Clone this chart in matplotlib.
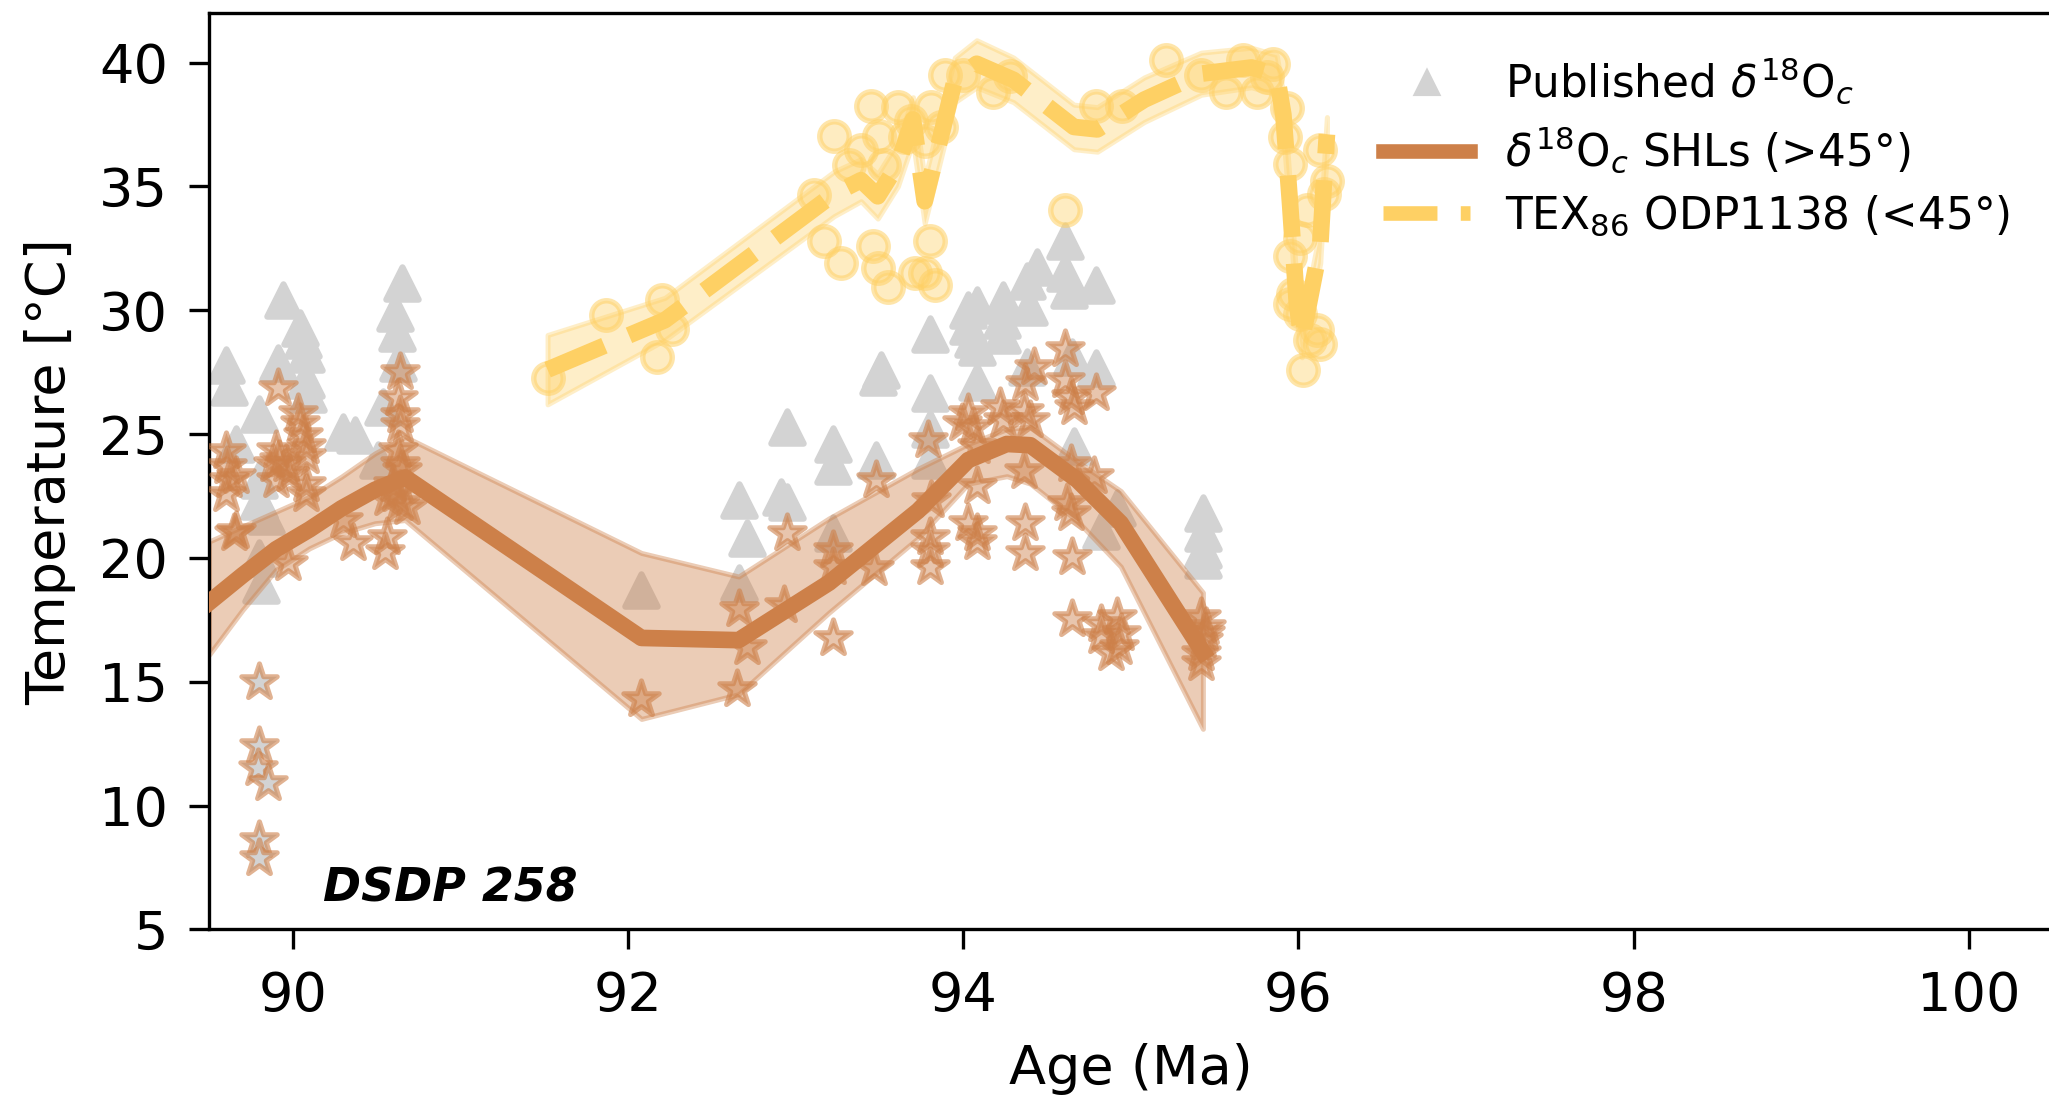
import numpy as np
import matplotlib
matplotlib.use('Agg')
import matplotlib.pyplot as plt
from matplotlib.lines import Line2D
from matplotlib.colors import to_rgba

# colours
brown = '#cd8049'
yellow = '#fed064'
grey = '#d3d3d3'

# published d18O (grey triangles): age (Ma), temperature (C)
pub_age = [89.60, 89.62, 89.66, 89.94, 90.04, 90.06, 90.08, 89.91, 90.08, 90.09,
           89.80, 89.80, 89.80, 89.84, 89.80, 89.81, 90.30, 90.37, 90.65, 90.61,
           90.62, 90.63, 90.54, 90.51, 92.08,
           93.51, 93.49, 92.95, 92.66, 92.71, 93.22, 93.22, 92.91, 92.95, 93.48,
           93.22, 92.66, 93.80, 93.80, 93.80, 93.80, 94.03, 94.08, 94.03, 94.06,
           94.08, 94.24, 94.23, 94.23, 94.39, 94.44, 94.38, 94.61, 94.61, 94.63,
           94.79, 94.08, 94.38, 94.79, 94.65, 94.66, 94.92, 94.82, 95.43, 95.43,
           95.43, 95.43]
pub_temp = [27.8, 26.9, 24.6, 30.4, 29.3, 28.8, 28.25, 27.85, 27.2, 26.6,
            25.8, 23.15, 22.3, 21.7, 20.0, 18.9, 25.1, 24.95, 31.1, 29.9,
            29.1, 27.85, 26.1, 23.95, 18.7,
            27.6, 27.3, 25.3, 22.35, 20.8, 24.6, 23.7, 22.45, 22.25, 23.95,
            21.0, 19.0, 29.05, 26.65, 25.2, 23.95, 30.0, 30.2, 29.35, 28.85,
            28.5, 30.4, 29.6, 29.0, 30.15, 31.75, 31.2, 32.8, 31.5, 30.8,
            31.0, 27.1, 27.7, 27.65, 28.1, 24.5, 22.0, 21.1, 21.8, 21.0,
            20.3, 19.9]

# d18O SHL samples (brown stars)
shl_age = [89.60, 89.61, 89.62, 89.60, 89.66, 89.65, 89.66, 89.91, 90.03, 90.04,
           90.06, 90.08, 90.08, 89.90, 89.92, 89.96, 89.88, 89.90, 89.98, 90.08,
           90.08, 89.97, 90.30, 90.36, 90.56, 90.55, 90.64, 90.63, 90.64, 90.64,
           90.63, 90.64, 90.65, 90.60, 90.56, 90.64, 90.68, 90.61,
           92.08, 92.66, 92.71, 92.65, 92.95, 92.93, 93.22, 93.22, 93.22, 93.48,
           93.47, 93.79, 93.81, 93.80, 93.80, 93.80, 94.03, 93.99, 94.06, 94.08,
           94.08, 94.03, 94.08, 94.08, 94.22, 94.24, 94.36, 94.37, 94.42, 94.40,
           94.36, 94.37, 94.37, 94.61, 94.61, 94.64, 94.66, 94.79, 94.65, 94.64,
           94.78, 94.62, 94.64, 94.65, 94.82, 94.92, 94.82, 94.93, 94.94, 94.88,
           95.42, 95.44, 95.42, 95.42, 95.43, 95.45]
shl_temp = [24.3, 23.7, 23.15, 22.6, 23.3, 21.0, 21.1, 26.85, 25.85, 25.45,
            24.95, 24.5, 24.1, 24.35, 23.95, 23.8, 23.8, 23.15, 23.4, 23.0,
            22.6, 19.8, 21.55, 20.6, 20.85, 20.25, 27.5, 26.45, 25.75, 25.35,
            24.35, 23.8, 23.55, 23.0, 22.4, 22.2, 22.05, 22.6,
            14.3, 17.95, 16.4, 14.7, 21.0, 18.1, 20.3, 19.65, 16.75, 23.15,
            19.6, 24.75, 22.35, 20.85, 20.3, 19.65, 25.85, 25.45, 25.3, 24.5,
            22.9, 21.4, 21.0, 20.65, 26.1, 25.55, 25.95, 27.05, 27.7, 25.55,
            23.5, 21.4, 20.2, 28.45, 27.2, 26.5, 26.1, 26.65, 20.05, 23.8,
            23.3, 22.2, 21.8, 17.55, 17.35, 17.6, 16.85, 16.4, 16.95, 16.15,
            17.6, 16.95, 16.15, 15.75, 16.7, 17.2]

# excluded SHL samples (grey-filled stars)
excl_age = [89.80, 89.80, 89.79, 89.85, 89.80, 89.80]
excl_temp = [15.0, 12.4, 11.5, 10.9, 8.6, 7.9]

# SHL mean curve with its envelope
shl_mean_age = [89.5, 89.7, 89.9, 90.1, 90.29, 90.49, 90.67, 92.08, 92.66, 93.2,
                93.73, 94.03, 94.26, 94.4, 94.68, 94.94, 95.43]
shl_mean = [18.2, 19.3, 20.35, 21.15, 22.0, 22.75, 23.25, 16.77, 16.68, 19.0,
            21.9, 23.95, 24.6, 24.55, 23.15, 21.4, 16.2]
shl_upper = [20.66, 21.27, 21.87, 22.47, 23.28, 24.22, 24.89, 20.2, 19.25, 21.6,
             23.6, 24.6, 25.2, 25.3, 23.9, 22.7, 18.6]
shl_lower = [16.09, 17.9, 19.52, 20.39, 21.0, 21.4, 21.53, 13.5, 14.5, 17.8,
             20.8, 23.0, 23.3, 23.0, 21.5, 19.65, 13.1]

# TEX86 ODP1138 samples (yellow circles)
tex_age = [91.52, 91.87, 92.20, 92.26, 92.17, 93.11, 93.23, 93.45, 93.39, 93.32,
           93.53, 93.50, 93.61, 93.69, 93.81, 93.87, 93.65, 93.77, 93.89, 94.00,
           94.18, 94.28, 93.17, 93.27, 93.46, 93.49, 93.55, 93.71, 93.77, 93.83,
           93.80, 94.79, 94.95, 94.61, 95.21, 95.42, 95.57, 95.67, 95.75, 95.85,
           95.81, 95.93, 95.92, 95.95, 96.13, 96.17, 96.15, 96.05, 96.01, 95.95,
           95.97, 96.01, 96.11, 96.07, 96.13, 96.03, 95.95]
tex_temp = [27.25, 29.8, 30.4, 29.25, 28.1, 34.65, 37.05, 38.25, 36.45, 35.85,
            35.85, 37.05, 38.2, 37.65, 38.2, 37.4, 37.0, 36.85, 39.5, 39.5,
            38.8, 39.45, 32.8, 31.9, 32.6, 31.7, 30.95, 31.5, 31.5, 31.0,
            32.8, 38.25, 38.25, 34.05, 40.1, 39.5, 38.8, 40.1, 38.8, 39.95,
            39.4, 38.15, 37.0, 35.9, 36.45, 35.2, 34.7, 34.05, 32.9, 32.2,
            30.65, 29.85, 29.2, 28.8, 28.65, 27.6, 30.25]

# TEX86 mean curve with its envelope
tex_mean_age = [91.52, 92.22, 93.23, 93.39, 93.49, 93.61, 93.70, 93.77, 93.95, 94.08,
                94.30, 94.66, 94.80, 95.08, 95.42, 95.72, 95.87, 95.91, 95.95, 95.99,
                96.02, 96.13, 96.16, 96.17]
tex_mean = [27.6, 29.6, 34.7, 35.25, 34.6, 35.9, 37.7, 34.4, 39.3, 39.95,
            39.3, 37.4, 37.3, 38.5, 39.55, 39.8, 39.5, 37.9, 34.3, 30.3,
            28.8, 32.6, 36.1, 37.1]
tex_upper = [29.0, 30.5, 35.6, 36.1, 35.5, 36.8, 38.6, 35.3, 40.2, 40.9,
             40.2, 38.3, 38.2, 39.4, 40.4, 40.6, 40.3, 38.7, 35.0, 31.0,
             29.5, 33.3, 36.8, 37.8]
tex_lower = [26.2, 28.8, 33.8, 34.4, 33.7, 35.0, 36.8, 33.5, 38.4, 39.0,
             38.4, 36.5, 36.4, 37.6, 38.7, 39.0, 38.7, 37.1, 33.6, 29.6,
             28.1, 31.9, 35.4, 36.4]

plt.rcParams['font.family'] = 'DejaVu Sans'
plt.rcParams['font.size'] = 13
plt.rcParams['mathtext.fontset'] = 'dejavusans'

fig = plt.figure(figsize=(2049 / 300, 1101 / 300), dpi=300)
ax = fig.add_axes([0.1020, 0.1558, 0.8998, 0.8324])

ax.scatter(pub_age, pub_temp, marker='^', s=60, color=grey, edgecolor=grey,
           linewidths=1.5, zorder=1)

ax.fill_between(shl_mean_age, shl_upper, shl_lower, facecolor=brown, alpha=0.4,
                edgecolor=brown, linewidth=1.2, zorder=2)
ax.fill_between(tex_mean_age, tex_upper, tex_lower, facecolor=yellow, alpha=0.35,
                edgecolor=yellow, linewidth=1.2, zorder=2)

ax.scatter(shl_age, shl_temp, marker='*', s=80, facecolor=to_rgba(brown, 0.45),
           edgecolor=to_rgba(brown, 0.6), linewidths=1.2, zorder=3)
ax.scatter(excl_age, excl_temp, marker='*', s=80, facecolor=grey,
           edgecolor=to_rgba(brown, 0.6), linewidths=1.2, zorder=3)

ax.plot(shl_mean_age, shl_mean, color=brown, lw=4, zorder=4)
ax.plot(tex_mean_age, tex_mean, color=yellow, lw=4, ls='--', zorder=4)

ax.scatter(tex_age, tex_temp, marker='o', s=50, facecolor=to_rgba(yellow, 0.4),
           edgecolor=to_rgba(yellow, 0.55), linewidths=1.3, zorder=5)

ax.text(0.062, 0.031, 'DSDP 258', transform=ax.transAxes, fontsize=11,
        fontweight='bold', fontstyle='italic', va='baseline', ha='left')

ax.set_xlim(89.5, 100.5)
ax.set_ylim(5, 42)
ax.set_xticks([90, 92, 94, 96, 98, 100])
ax.set_yticks([5, 10, 15, 20, 25, 30, 35, 40])
ax.tick_params(length=4.8, width=0.8, pad=5)
ax.spines['right'].set_visible(False)
ax.set_xlabel('Age (Ma)', labelpad=5)
ax.set_ylabel('Temperature [°C]', labelpad=5.5)

handles = [
    Line2D([], [], marker='^', ls='none', color=grey, markersize=5.5),
    Line2D([], [], color=brown, lw=3.5),
    Line2D([], [], color=yellow, lw=3.5, ls='--'),
]
labels = [r'Published $\delta^{18}$O$_c$', r'$\delta^{18}$O$_c$ SHLs (>45°)',
          r'TEX$_{86}$ ODP1138 (<45°)']
ax.legend(handles, labels, loc='upper right', frameon=False, fontsize=10.5,
          labelspacing=0.4, handlelength=2.0, bbox_to_anchor=(0.9985, 0.996))

fig.savefig('out.png', dpi=300)
